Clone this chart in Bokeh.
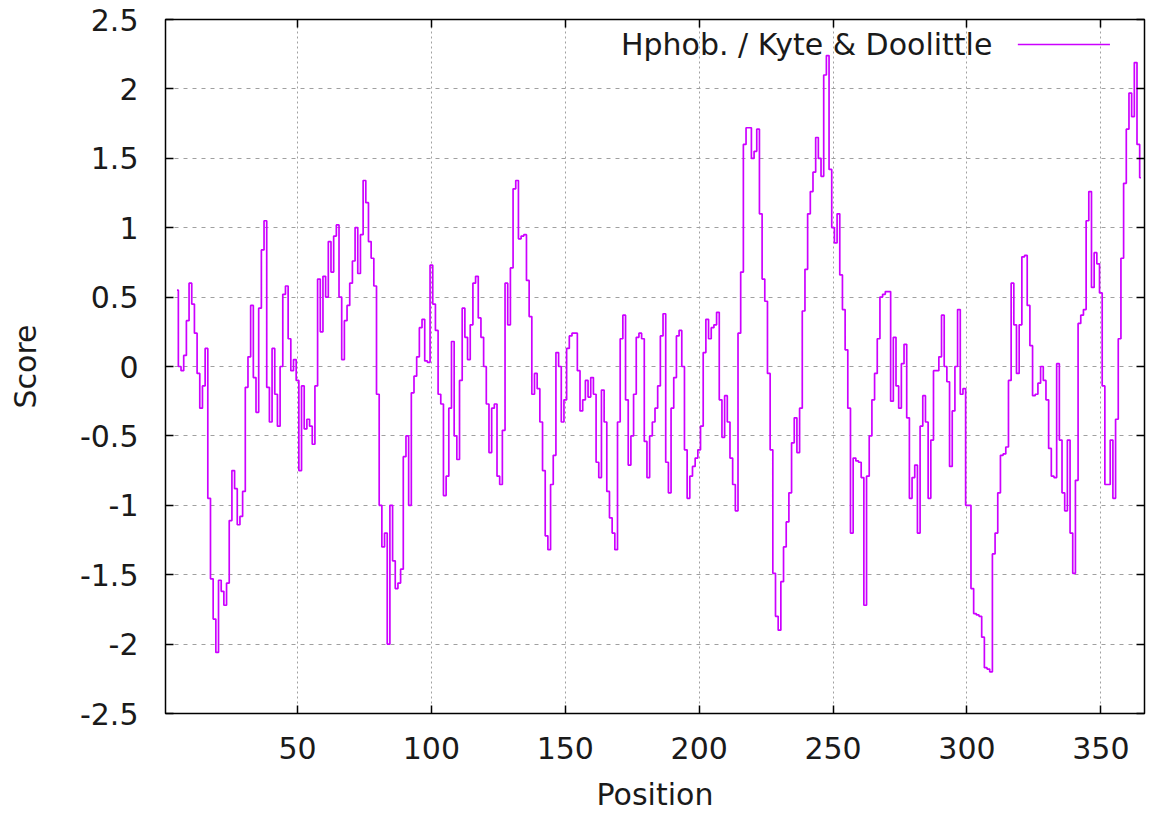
from bokeh.plotting import figure
from bokeh.models import Range1d, FixedTicker, LinearAxis, CustomJSTickFormatter, Label, Arrow
from bokeh.embed import file_html
from bokeh.resources import INLINE

# ---- data ----
series_name = "Hphob. / Kyte & Doolittle"
first_position = 5
score = [
    0.55, 0.0, -0.03, 0.08, 0.33, 0.6, 0.45, 0.24, -0.05, -0.3,          # 5-14
    -0.14, 0.13, -0.95, -1.53, -1.82, -2.06, -1.54, -1.62, -1.72, -1.56,  # 15-24
    -1.11, -0.75, -0.88, -1.14, -1.08, -0.9, -0.15, 0.07, 0.44, -0.08,    # 25-34
    -0.33, 0.42, 0.84, 1.05, -0.15, -0.4, 0.13, -0.2, -0.43, 0.0,         # 35-44
    0.52, 0.58, 0.2, -0.03, 0.05, -0.1, -0.75, -0.14, -0.45, -0.38,       # 45-54
    -0.43, -0.56, -0.14, 0.63, 0.25, 0.65, 0.5, 0.9, 0.68, 0.94,          # 55-64
    1.02, 0.5, 0.05, 0.33, 0.44, 0.6, 0.76, 1.0, 0.67, 0.95,              # 65-74
    1.34, 1.18, 0.9, 0.78, 0.58, -0.2, -1.0, -1.3, -1.2, -2.0,            # 75-84
    -1.0, -1.4, -1.6, -1.56, -1.46, -0.65, -0.5, -1.0, -0.19, -0.07,      # 85-94
    0.07, 0.28, 0.34, 0.04, 0.03, 0.73, 0.45, 0.26, -0.2, -0.27,          # 95-104
    -0.93, -0.79, -0.3, 0.18, -0.5, -0.67, -0.1, 0.42, 0.21, 0.05,        # 105-114
    0.3, 0.6, 0.65, 0.35, 0.21, 0.0, -0.27, -0.62, -0.3, -0.27,           # 115-124
    -0.79, -0.85, -0.46, 0.6, 0.3, 0.71, 1.28, 1.34, 0.92, 0.94,          # 125-134
    0.95, 0.62, 0.36, -0.2, -0.05, -0.16, -0.4, -0.75, -1.22, -1.32,      # 135-144
    -0.85, -0.64, 0.1, 0.0, -0.4, -0.24, 0.13, 0.22, 0.24, 0.24,          # 145-154
    -0.03, -0.32, -0.24, -0.1, -0.22, -0.08, -0.2, -0.69, -0.8, -0.17,    # 155-164
    -0.4, -0.9, -1.09, -1.2, -1.32, -0.4, 0.2, 0.37, -0.24, -0.71,        # 165-174
    -0.5, -0.2, 0.21, 0.24, 0.2, -0.54, -0.8, -0.5, -0.4, -0.3,           # 175-184
    -0.14, 0.22, 0.38, -0.69, -0.91, -0.3, -0.08, 0.22, 0.26, 0.0,        # 185-194
    -0.6, -0.95, -0.79, -0.72, -0.66, -0.6, -0.43, 0.1, 0.34, 0.2,        # 195-204
    0.28, 0.3, 0.39, -0.24, -0.51, -0.21, -0.4, -0.66, -0.85, -1.04,      # 205-214
    0.24, 0.68, 1.6, 1.72, 1.72, 1.5, 1.55, 1.71, 1.1, 0.63,              # 215-224
    0.47, -0.05, -0.6, -1.49, -1.8, -1.9, -1.55, -1.3, -1.12, -0.91,      # 225-234
    -0.55, -0.37, -0.62, -0.3, 0.4, 0.7, 1.1, 1.26, 1.4, 1.65,            # 235-244
    1.5, 1.37, 2.1, 2.24, 1.42, 1.0, 0.89, 1.1, 0.66, 0.41,               # 245-254
    0.12, -0.3, -1.2, -0.66, -0.68, -0.69, -0.8, -1.72, -0.79, -0.5,      # 255-264
    -0.24, -0.05, 0.2, 0.5, 0.52, 0.54, 0.54, -0.25, 0.21, -0.14,         # 265-274
    -0.3, 0.02, 0.16, -0.37, -0.95, -0.8, -0.71, -1.2, -0.43, -0.21,      # 275-284
    -0.4, -0.95, -0.53, -0.03, -0.03, 0.07, 0.37, 0.0, -0.11, -0.72,      # 285-294
    -0.32, 0.0, 0.41, -0.2, -0.16, -1.0, -1.0, -1.6, -1.78, -1.79,        # 295-304
    -1.8, -1.95, -2.17, -2.18, -2.2, -1.35, -1.2, -0.91, -0.64, -0.63,    # 305-314
    -0.58, -0.1, 0.6, 0.3, -0.05, 0.3, 0.79, 0.8, 0.44, 0.15,             # 315-324
    -0.21, -0.2, -0.12, 0.0, -0.1, -0.24, -0.59, -0.79, -0.8, 0.02,       # 325-334
    -0.53, -0.91, -1.04, -0.53, -1.2, -1.49, -0.82, 0.31, 0.37, 0.41,     # 335-344
    1.05, 1.26, 0.57, 0.82, 0.74, 0.53, -0.14, -0.85, -0.85, -0.53,       # 345-354
    -0.95, -0.38, 0.2, 0.78, 1.32, 1.71, 1.97, 1.8, 2.19, 1.6,            # 355-364
    1.36,                                                                 # 365
]
position = list(range(first_position, first_position + len(score)))

x_ticks = [50, 100, 150, 200, 250, 300, 350]
y_ticks = [-2.5, -2.0, -1.5, -1.0, -0.5, 0.0, 0.5, 1.0, 1.5, 2.0, 2.5]

FONT = "DejaVu Sans"
FS = "30px"
TEXT_COLOR = "#1a1a1a"
LINE_COLOR = "#cc00ff"

p = figure(width=1152, height=814, output_backend="svg", toolbar_location=None,
           x_range=Range1d(0.7, 366.3), y_range=Range1d(-2.5, 2.5),
           min_border_left=165, min_border_right=8, min_border_top=19, min_border_bottom=101)
p.background_fill_color = "white"
p.border_fill_color = "white"
p.outline_line_color = "black"
p.outline_line_width = 1.5

p.step(position, score, mode="center", line_color=LINE_COLOR, line_width=1.7)

fmt = CustomJSTickFormatter(code="return tick.toString();")

for ax, ticks in ((p.xaxis[0], x_ticks), (p.yaxis[0], y_ticks)):
    ax.ticker = FixedTicker(ticks=ticks)
    ax.formatter = fmt
    ax.major_tick_in = 8
    ax.major_tick_out = 0
    ax.minor_tick_line_color = None
    ax.major_tick_line_color = "black"
    ax.major_tick_line_width = 1.5
    ax.axis_line_color = "black"
    ax.major_label_text_font = FONT
    ax.major_label_text_font_size = FS
    ax.major_label_text_color = TEXT_COLOR
    ax.axis_label_text_font = FONT
    ax.axis_label_text_font_size = FS
    ax.axis_label_text_font_style = "normal"
    ax.axis_label_text_color = TEXT_COLOR

p.xaxis[0].axis_label = "Position"
p.xaxis[0].major_label_standoff = 23
p.xaxis[0].axis_label_standoff = 15
p.yaxis[0].axis_label = "Score"
p.yaxis[0].major_label_standoff = 27
p.yaxis[0].axis_label_standoff = 34

# mirrored ticks (gnuplot style), no labels drawn
for loc, ticks in (("right", y_ticks), ("above", x_ticks)):
    ax = LinearAxis(ticker=FixedTicker(ticks=ticks))
    ax.major_tick_in = 8
    ax.major_tick_out = 0
    ax.minor_tick_line_color = None
    ax.major_tick_line_color = "black"
    ax.major_tick_line_width = 1.5
    ax.axis_line_color = None
    ax.major_label_text_color = None
    ax.major_label_text_font_size = "1px"
    ax.major_label_standoff = 0
    p.add_layout(ax, loc)

p.xgrid.ticker = FixedTicker(ticks=x_ticks)
p.ygrid.ticker = FixedTicker(ticks=y_ticks)
p.xgrid.grid_line_color = "#a0a0a0"
p.ygrid.grid_line_color = "#a0a0a0"
p.xgrid.grid_line_dash = "2 3"
p.ygrid.grid_line_dash = "4 5"
p.xgrid.grid_line_width = 1
p.ygrid.grid_line_width = 1

# gnuplot-style key (text on the left, sample line on the right)
p.add_layout(Label(x=309.5, y=2.32, text=series_name, text_align="right",
                   text_baseline="middle", text_font=FONT, text_font_size=FS,
                   text_color=TEXT_COLOR))
p.add_layout(Arrow(x_start=319.0, y_start=2.32, x_end=353.4, y_end=2.32, end=None,
                   line_color=LINE_COLOR, line_width=1.7))

open("out.html", "w").write(file_html(p, INLINE))
